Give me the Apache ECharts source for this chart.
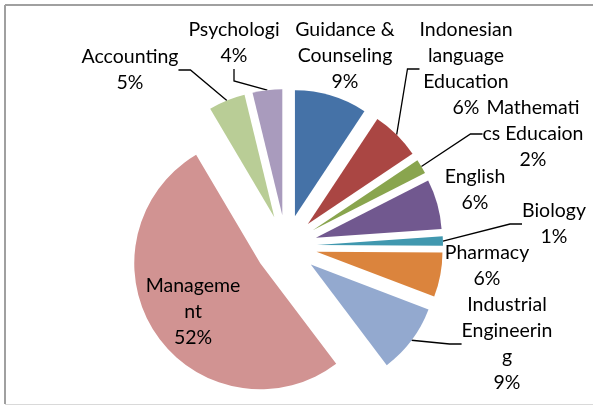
<!DOCTYPE html>
<html>
<head>
<meta charset="utf-8">
<script src="https://cdn.jsdelivr.net/npm/echarts@6/dist/echarts.min.js"></script>
<style>
  html, body {margin: 0; padding: 0; background: #fff;}
  #chart {width: 593px; height: 405px;}
</style>
</head>
<body>
<div id="chart"></div>
<script>
const departments = ['Guidance & Counseling', 'Indonesian language Education', 'Mathematics Educaion', 'English',
  'Biology', 'Pharmacy', 'Industrial Engineering', 'Management', 'Accounting', 'Psychologi']
// wrapped the way the original labels are wrapped
const labelNames = ['Guidance &\nCounseling', 'Indonesian\nlanguage\nEducation', 'Mathemati\ncs Educaion', 'English',
  'Biology', 'Pharmacy', 'Industrial\nEngineerin\ng', 'Manageme\nnt', 'Accounting', 'Psychologi']
const shares = [9.3, 6.3, 1.9, 6.4, 1.2, 5.7, 8.9, 51.8, 4.7, 3.8]

const colors = ['#4572A7', '#AA4643', '#89A54E', '#71588F', '#4198AF', '#DB843D', '#93A9CF', '#D19392', '#B9CD96', '#A99BBD']

// label centres, by slice
const labelPos = [
  [345, 56], [466, 69], [533, 134], [475, 190], [554, 224],
  [487, 266], [507, 344], [193, 312], [130, 70], [234, 43]
]
const noLeader = [0, 3, 5, 7]

const center = [286, 246]
const radius = 126
const explode = 31

const chart = echarts.init(document.getElementById('chart'))

chart.setOption({
  animation: false,
  color: colors,
  graphic: [
    {type: 'line', shape: {x1: 5, y1: 5, x2: 593, y2: 5}, style: {stroke: '#a0a0a0', lineWidth: 2}},
    {type: 'line', shape: {x1: 5, y1: 5, x2: 5, y2: 404}, style: {stroke: '#a0a0a0', lineWidth: 2}},
    {type: 'line', shape: {x1: 5, y1: 404.5, x2: 593, y2: 404.5}, style: {stroke: '#d9d9d9', lineWidth: 1}}
  ],
  series: [{
    // exploded slices
    type: 'pie',
    center,
    radius,
    startAngle: 90,
    clockwise: true,
    selectedMode: 'multiple',
    selectedOffset: explode,
    emphasis: {disabled: true},
    itemStyle: {borderWidth: 0},
    label: {show: false},
    labelLine: {show: false},
    data: departments.map((name, i) => ({name, value: shares[i], selected: true}))
  }, {
    // same slices, invisible, only carrying the labels and leader lines
    type: 'pie',
    center,
    radius: radius + explode,
    startAngle: 90,
    clockwise: true,
    silent: true,
    selectedMode: false,
    emphasis: {disabled: true},
    itemStyle: {color: 'rgba(0,0,0,0)', borderWidth: 0},
    label: {
      show: true,
      position: 'outside',
      color: '#000',
      fontFamily: 'Lato',
      fontSize: 19.5,
      lineHeight: 26,
      align: 'center',
      formatter: p => labelNames[p.dataIndex] + '\n' + Math.round(p.percent) + '%'
    },
    labelLine: {show: true, length: 10, length2: 12, lineStyle: {color: '#000', width: 1.3}},
    labelLayout: p => ({
      x: labelPos[p.dataIndex][0],
      y: labelPos[p.dataIndex][1],
      align: 'center',
      verticalAlign: 'middle'
    }),
    data: departments.map((name, i) => ({
      name,
      value: shares[i],
      labelLine: {show: noLeader.indexOf(i) < 0}
    }))
  }]
})
</script>
</body>
</html>
